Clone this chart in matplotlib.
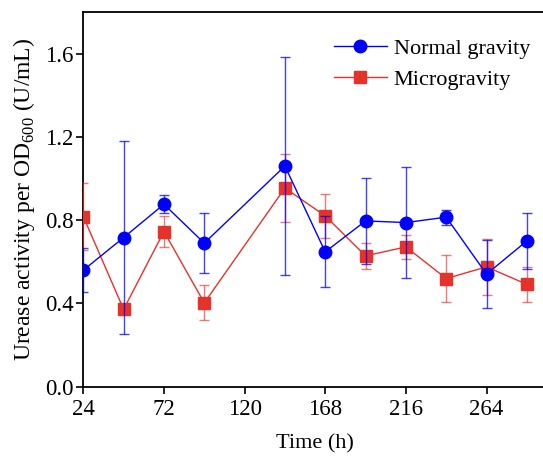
import matplotlib
matplotlib.use("Agg")
import matplotlib.pyplot as plt

time_h = [24, 48, 72, 96, 144, 168, 192, 216, 240, 264, 288]
normal = [0.560, 0.717, 0.877, 0.690, 1.061, 0.648, 0.797, 0.789, 0.815, 0.541, 0.701]
normal_err = [0.105, 0.464, 0.044, 0.144, 0.524, 0.171, 0.206, 0.267, 0.036, 0.163, 0.134]
micro = [0.818, 0.372, 0.746, 0.403, 0.955, 0.821, 0.629, 0.672, 0.520, 0.576, 0.492]
micro_err = [0.161, 0.0, 0.074, 0.084, 0.163, 0.105, 0.063, 0.057, 0.115, 0.135, 0.083]
xticks = [24, 72, 120, 168, 216, 264]
yticks = [0.0, 0.4, 0.8, 1.2, 1.6]

plt.rcParams['font.family'] = ['Liberation Serif', 'DejaVu Serif']
plt.rcParams['mathtext.fontset'] = 'custom'
plt.rcParams['mathtext.rm'] = 'Liberation Serif'

fig = plt.figure(figsize=(5.43, 4.58), dpi=100)
ax = fig.add_axes([0.1534, 0.1557, 0.854, 0.8175])

red = '#E5322B'
blue = '#0000FF'

ax.plot(time_h, micro, color=red, marker='s', markersize=8, linewidth=1.0,
        label='Microgravity', zorder=3)
ax.errorbar(time_h, micro, yerr=micro_err, fmt='none', ecolor=red, alpha=0.65,
            elinewidth=1.0, capsize=3.5, capthick=1.0, zorder=4)
ax.plot(time_h, normal, color=blue, marker='o', markersize=9, linewidth=1.0,
        label='Normal gravity', zorder=5)
ax.errorbar(time_h, normal, yerr=normal_err, fmt='none', ecolor=blue, alpha=0.75,
            elinewidth=1.0, capsize=3.5, capthick=1.0, zorder=6)

ax.set_xlim(24, 300)
ax.set_ylim(0, 1.8)
ax.set_xticks(xticks)
ax.set_yticks(yticks)
ax.set_yticklabels([f'{v:.1f}' for v in yticks])
ax.tick_params(direction='out', length=5, width=1.2, labelsize=16.5, pad=2)
ax.tick_params(axis='x', pad=4)
for s in ax.spines.values():
    s.set_linewidth(1.3)

ax.set_xlabel('Time (h)', fontsize=16, labelpad=10)
ax.set_ylabel('Urease activity per OD$_{600}$ (U/mL)', fontsize=17, labelpad=6)

h, l = ax.get_legend_handles_labels()
ax.legend(h[::-1], l[::-1], loc='upper left', bbox_to_anchor=(0.511, 0.965),
          frameon=False, fontsize=16, handlelength=2.4, handletextpad=0.3,
          labelspacing=0.45, borderaxespad=0.2)

fig.savefig('out.png', dpi=100)
